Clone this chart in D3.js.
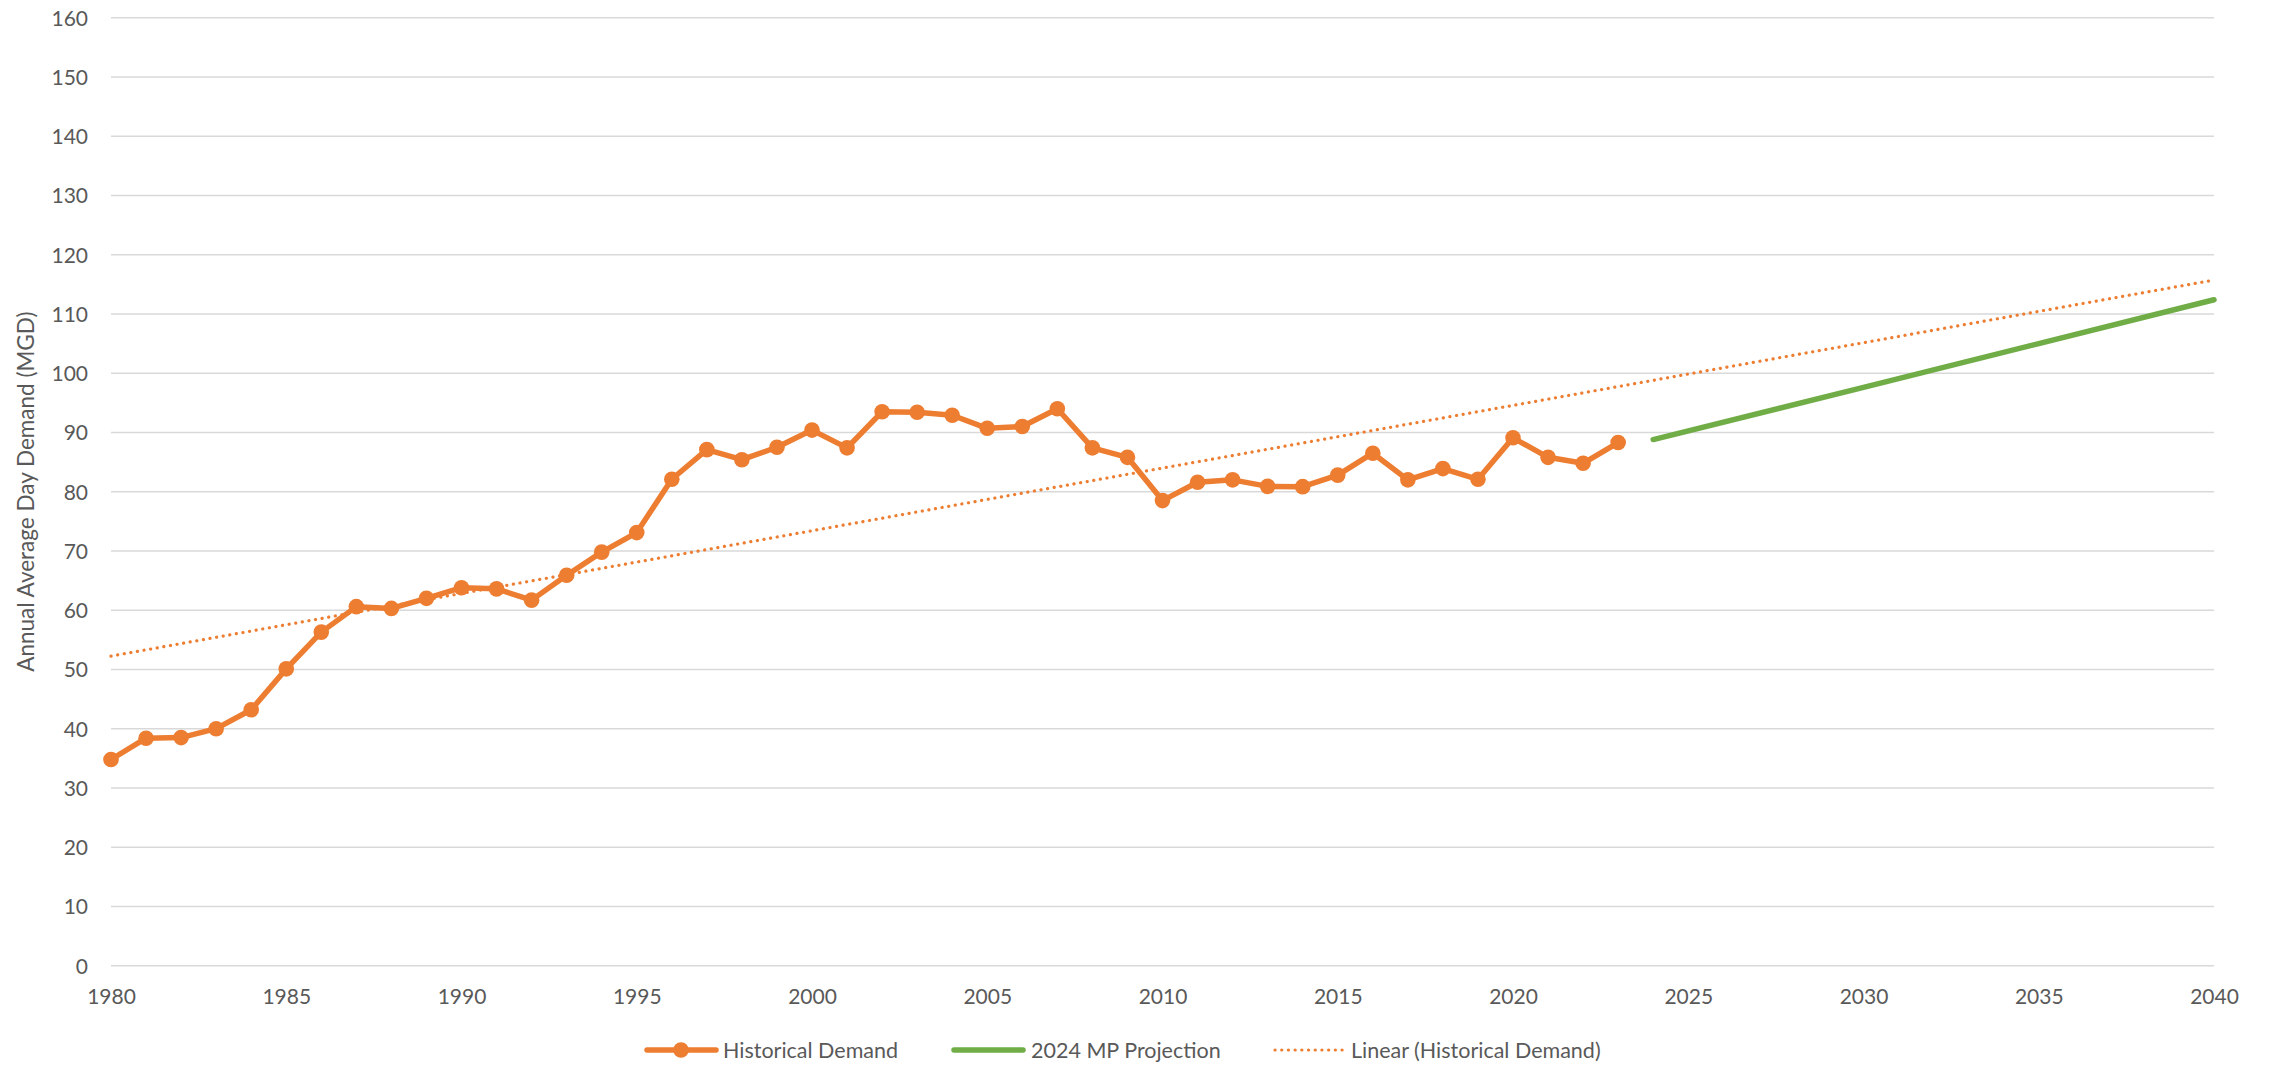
<!DOCTYPE html>
<html>
<head>
<meta charset="utf-8">
<script src="https://cdn.jsdelivr.net/npm/d3@7"></script>
<style>
  html, body { margin: 0; padding: 0; background: #fff; }
  svg { display: block; }
  text { font-family: Lato, "Open Sans", sans-serif; fill: #595959; }
</style>
</head>
<body>
<svg id="chart" width="2270" height="1065"></svg>
<script>
// ---- data ----
const histYears = [1980,1981,1982,1983,1984,1985,1986,1987,1988,1989,
                   1990,1991,1992,1993,1994,1995,1996,1997,1998,1999,
                   2000,2001,2002,2003,2004,2005,2006,2007,2008,2009,
                   2010,2011,2012,2013,2014,2015,2016,2017,2018,2019,
                   2020,2021,2022,2023];
const histDemand = [34.8,38.4,38.5,40.0,43.2,50.1,56.3,60.6,60.3,62.0,
                    63.8,63.6,61.7,65.9,69.8,73.1,82.1,87.1,85.4,87.5,
                    90.4,87.4,93.5,93.4,92.9,90.7,91.0,94.0,87.4,85.8,
                    78.5,81.6,82.0,80.9,80.85,82.8,86.5,82.0,83.9,82.1,
                    89.1,85.8,84.8,88.3];
const projYears = [2024,2030,2035,2040];
const projDemand = [88.8,97.6,105.0,112.4];
const yTicks = [0,10,20,30,40,50,60,70,80,90,100,110,120,130,140,150,160];
const xTicks = [1980,1985,1990,1995,2000,2005,2010,2015,2020,2025,2030,2035,2040];
const seriesNames = ["Historical Demand","2024 MP Projection","Linear (Historical Demand)"];
const yTitle = "Annual Average Day Demand (MGD)";

const ORANGE = "#ED7D31", GREEN = "#70AD47", GRID = "#D9D9D9";
const FONT = "Lato, 'Open Sans', sans-serif";

const svg = d3.select("#chart");
const x = d3.scaleLinear().domain([1980,2040]).range([111,2214]);
const y = d3.scaleLinear().domain([0,160]).range([965.7,17.7]);

// gridlines
svg.append("g").selectAll("line").data(yTicks).join("line")
  .attr("x1", x(1980)).attr("x2", x(2040))
  .attr("y1", d => y(d)).attr("y2", d => y(d))
  .attr("stroke", GRID).attr("stroke-width", 1.5);

// y axis labels
const yAxis = d3.axisLeft(y).tickValues(yTicks).tickSize(0).tickPadding(0);
const gy = svg.append("g").attr("transform", "translate(88,0)").call(yAxis);
gy.select(".domain").remove();
gy.selectAll("text").style("font-family", FONT)
  .style("font-size", "21px").attr("fill", "#595959").attr("dy", "0.35em");

// x axis labels
const xAxis = d3.axisBottom(x).tickValues(xTicks).tickFormat(d3.format("d")).tickSize(0).tickPadding(0);
const gx = svg.append("g").attr("transform", "translate(0,990)").call(xAxis);
gx.select(".domain").remove();
gx.selectAll("text").style("font-family", FONT)
  .style("font-size", "21px").attr("fill", "#595959").attr("dy", "0.35em").attr("y", 7);

// y title
svg.append("text")
  .attr("transform", `translate(26,${(y(0)+y(160))/2}) rotate(-90)`)
  .attr("text-anchor", "middle").attr("dy", "0.35em")
  .style("font-size", "22.5px").text(yTitle);

// linear trendline (least squares on historical data)
const n = histYears.length;
const mx = d3.mean(histYears), my = d3.mean(histDemand);
let sxy = 0, sxx = 0;
for (let i = 0; i < n; i++) { sxy += (histYears[i]-mx)*(histDemand[i]-my); sxx += (histYears[i]-mx)**2; }
const slope = sxy / sxx, icpt = my - slope*mx;
const trendX = [1980, 2040];
svg.append("path")
  .datum(trendX)
  .attr("d", d3.line().x(d => x(d)).y(d => y(icpt + slope*d)))
  .attr("fill", "none").attr("stroke", ORANGE).attr("stroke-width", 3.2)
  .attr("stroke-linecap", "round").attr("stroke-dasharray", "0.1 6.6");

// projection
const projData = projYears.map((d,i) => [d, projDemand[i]]);
svg.append("path").datum(projData)
  .attr("d", d3.line().x(d => x(d[0])).y(d => y(d[1])))
  .attr("fill", "none").attr("stroke", GREEN).attr("stroke-width", 5.5)
  .attr("stroke-linecap", "round");

// historical
const histData = histYears.map((d,i) => [d, histDemand[i]]);
svg.append("path").datum(histData)
  .attr("d", d3.line().x(d => x(d[0])).y(d => y(d[1])))
  .attr("fill", "none").attr("stroke", ORANGE).attr("stroke-width", 5.5)
  .attr("stroke-linejoin", "round");
svg.append("g").selectAll("circle").data(histData).join("circle")
  .attr("cx", d => x(d[0])).attr("cy", d => y(d[1])).attr("r", 7.8)
  .attr("fill", ORANGE);

// legend
const ly = 1050;
const leg = svg.append("g");
leg.append("line").attr("x1", 647).attr("x2", 716).attr("y1", ly).attr("y2", ly)
  .attr("stroke", ORANGE).attr("stroke-width", 5.5).attr("stroke-linecap", "round");
leg.append("circle").attr("cx", 681).attr("cy", ly).attr("r", 7.8).attr("fill", ORANGE);
leg.append("text").attr("x", 723).attr("y", ly).attr("dy", "0.35em").style("font-size", "21.5px").text(seriesNames[0]);

leg.append("line").attr("x1", 954).attr("x2", 1023).attr("y1", ly).attr("y2", ly)
  .attr("stroke", GREEN).attr("stroke-width", 5.5).attr("stroke-linecap", "round");
leg.append("text").attr("x", 1031).attr("y", ly).attr("dy", "0.35em").style("font-size", "21.5px").text(seriesNames[1]);

leg.append("line").attr("x1", 1275).attr("x2", 1343).attr("y1", ly).attr("y2", ly)
  .attr("stroke", ORANGE).attr("stroke-width", 3.2).attr("stroke-linecap", "round")
  .attr("stroke-dasharray", "0.1 6.6");
leg.append("text").attr("x", 1351).attr("y", ly).attr("dy", "0.35em").style("font-size", "21.5px").text(seriesNames[2]);
</script>
</body>
</html>
